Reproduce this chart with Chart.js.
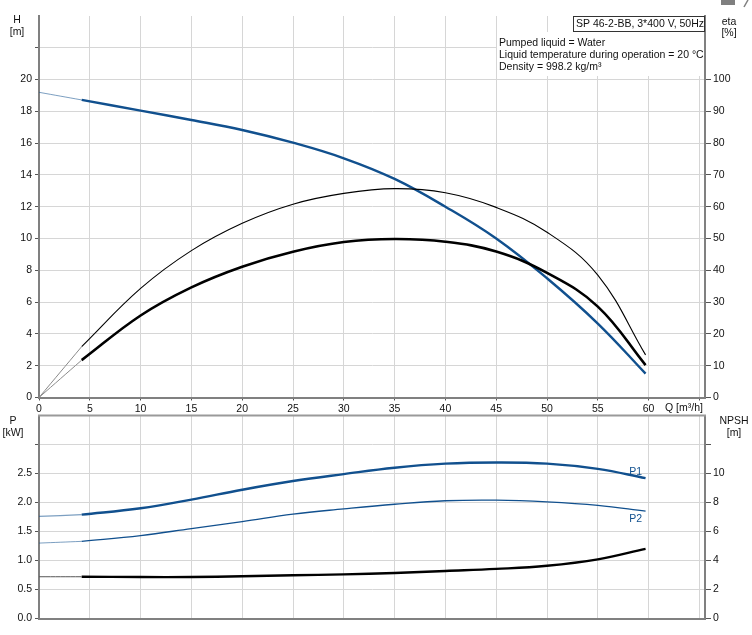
<!DOCTYPE html>
<html><head><meta charset="utf-8">
<script src="https://cdn.jsdelivr.net/npm/chart.js@4/dist/chart.umd.min.js"></script>
<style>
html,body{margin:0;padding:0;background:#fff;}
body{width:752px;height:635px;position:relative;overflow:hidden;}
canvas{position:absolute;left:0;}
#c1{top:0;} #c2{top:405px;}
</style></head><body>
<canvas id="c1" width="752" height="420"></canvas>
<canvas id="c2" width="752" height="230"></canvas>
<script>
// ---------- data ----------
const X_TICKS = [0,5,10,15,20,25,30,35,40,45,50,55,60,65];
const H_TICKS = [0,2,4,6,8,10,12,14,16,18,20,22];
const ETA_TICKS = [0,10,20,30,40,50,60,70,80,90,100];
const P_TICKS = [0,0.5,1.0,1.5,2.0,2.5,3.0];
const NPSH_TICKS = [0,2,4,6,8,10,12];

const Q_EXT = [0, 4.2];
const Q_MAIN = [4.2,10,15,20,25,30,35,40,45,50,55,59.7];
const Q_ETA_THIN = [4.2,10,15,20,25,30,35,40,45,50,55,59.7];
const Q_ETA_THICK = [4.2,10,15,20,25,30,35,40,45,50,55,59.7];

const HEAD_EXT = [19.2, 18.72];
const HEAD = [18.72,18.05,17.46,16.83,16.03,15.05,13.75,12.0,10.0,7.5,4.65,1.5];
const ETA_THIN_EXT = [0, 16];
const ETA_THIN = [16,34.3,46.2,54.8,60.8,64.2,65.7,64.4,59.8,52.0,38.5,13.4];
const ETA_THICK_EXT = [0, 11.75];
const ETA_THICK = [11.75,25.8,34.65,41.15,45.85,48.9,49.85,49,45.9,39.2,28.6,10.2];

const P1_EXT = [1.76, 1.79];
const P1 = [1.79,1.90,2.05,2.22,2.37,2.49,2.60,2.67,2.69,2.67,2.58,2.42];
const P2_EXT = [1.30, 1.33];
const P2 = [1.33,1.43,1.55,1.67,1.80,1.89,1.97,2.03,2.04,2.01,1.95,1.85];
const NPSH_EXT = [2.88, 2.88];
const NPSH = [2.88,2.86,2.86,2.91,2.98,3.04,3.14,3.28,3.42,3.64,4.08,4.8];

const TITLE = 'SP 46-2-BB, 3*400 V, 50Hz';
const INFO = ['Pumped liquid = Water','Liquid temperature during operation = 20 \u00B0C','Density = 998.2 kg/m\u00B3'];

// ---------- style ----------
const FONT = "'Liberation Sans', Arial, sans-serif";
Chart.defaults.font.family = FONT;
Chart.defaults.font.size = 10.5;
Chart.defaults.color = '#111';
const GRID = '#d6d6d6', AXIS = '#808080', TICKC = '#555', BLUE = '#11508e';
const Q_MAX = 65.55;

const pts = (xs, ys) => xs.map((x,i)=>({x:x, y:ys[i]}));
const fixW = w => s => { s.width = w; };
const fixH = h => s => { s.height = h; };
const setTicks = arr => s => { s.ticks = arr.map(v => ({value:v})); };
function line(data, color, width, axis){
  return {data:data, borderColor:color, borderWidth:width, yAxisID:axis, pointRadius:0, fill:false,
          tension:0.4, borderCapStyle:'butt'};
}
function xScale(show, h){
  return {type:'linear', min:0, max:Q_MAX, afterBuildTicks:setTicks(X_TICKS), afterFit:fixH(h),
    grid:{color:GRID, drawTicks:show, tickLength:3, tickColor:TICKC},
    border:{color:AXIS, width:2},
    ticks:{display:show, padding:2, autoSkip:false, maxRotation:0, callback:v => v===65 ? '' : String(v)}};
}
function txt(ctx, s, x, y, align, color){
  ctx.save(); ctx.font = '10.5px ' + FONT; ctx.fillStyle = color || '#111';
  ctx.textAlign = align || 'left'; ctx.textBaseline = 'middle'; ctx.fillText(s, x, y); ctx.restore();
}

const deco1 = {id:'deco1', afterDraw(chart){
  const c = chart.ctx;
  txt(c,'H',17,20,'center'); txt(c,'[m]',17,32,'center');
  txt(c,'eta',729,22,'center'); txt(c,'[%]',729,33,'center');
  txt(c,'Q [m\u00B3/h]',665,408.5,'left');
  c.save();
  c.fillStyle = '#fff'; c.fillRect(497,32,207,44);
  c.fillRect(573,16,131,16);
  c.strokeStyle = '#333'; c.lineWidth = 1; c.strokeRect(573.5,16.5,131,15);
  c.fillStyle = '#7f7f7f'; c.fillRect(721,0,14,5);
  c.strokeStyle = '#7f7f7f'; c.lineWidth = 1.5; c.beginPath(); c.moveTo(744,7); c.lineTo(748,0); c.stroke();
  c.restore();
  txt(c,TITLE,576,24.5,'left');
  INFO.forEach((s,i)=>txt(c,s,499,42.7+i*12,'left'));
}};

const deco2 = {id:'deco2', afterDraw(chart){
  const c = chart.ctx, a = chart.chartArea;
  c.save(); c.strokeStyle = '#9a9a9a'; c.lineWidth = 2;
  c.beginPath(); c.moveTo(a.left-1, a.top); c.lineTo(a.right+1, a.top); c.stroke(); c.restore();
  txt(c,'P',13,15.7,'center'); txt(c,'[kW]',13,28,'center');
  txt(c,'NPSH',734,15.7,'center'); txt(c,'[m]',734,28,'center');
  const xs = chart.scales.x, ys = chart.scales.y;
  const n = Q_MAIN.length - 1;
  txt(c,'P1', xs.getPixelForValue(Q_MAIN[n]) - 10, ys.getPixelForValue(P1[n]) - 6, 'center', BLUE);
  txt(c,'P2', xs.getPixelForValue(Q_MAIN[n]) - 10, ys.getPixelForValue(P2[n]) + 8, 'center', BLUE);
}};

new Chart(document.getElementById('c1'), {
  type:'line',
  data:{datasets:[
    line(pts(Q_EXT, HEAD_EXT), 'rgba(17,80,142,0.55)', 1, 'y'),
    line(pts(Q_EXT, ETA_THIN_EXT), '#8a8a8a', 1, 'yE'),
    line(pts(Q_EXT, ETA_THICK_EXT), '#8a8a8a', 1, 'yE'),
    line(pts(Q_ETA_THIN, ETA_THIN), '#000', 1.1, 'yE'),
    line(pts(Q_ETA_THICK, ETA_THICK), '#000', 2.6, 'yE'),
    line(pts(Q_MAIN, HEAD), BLUE, 2.4, 'y')
  ]},
  options:{responsive:false, animation:false, devicePixelRatio:1,
    layout:{padding:{top:16,left:0,right:0,bottom:0}},
    plugins:{legend:{display:false}, tooltip:{enabled:false}},
    scales:{
      x: xScale(true, 22.5),
      y: {position:'left', min:0, max:24, afterBuildTicks:setTicks(H_TICKS), afterFit:fixW(39),
          grid:{color:GRID, tickLength:4, tickColor:TICKC}, border:{color:AXIS,width:2},
          ticks:{padding:3, autoSkip:false, callback:v => v>20 ? '' : String(v)}},
      yE:{position:'right', min:0, max:120, afterBuildTicks:setTicks(ETA_TICKS), afterFit:fixW(47),
          grid:{drawOnChartArea:false, tickLength:6, tickColor:TICKC}, border:{color:AXIS,width:2},
          ticks:{padding:2, autoSkip:false}}
    }},
  plugins:[deco1]
});

new Chart(document.getElementById('c2'), {
  type:'line',
  data:{datasets:[
    line(pts(Q_EXT, P1_EXT), 'rgba(17,80,142,0.55)', 1.2, 'y'),
    line(pts(Q_EXT, P2_EXT), 'rgba(17,80,142,0.55)', 1, 'y'),
    line(pts(Q_EXT, NPSH_EXT), '#555', 1, 'yN'),
    line(pts(Q_MAIN, P1), BLUE, 2.4, 'y'),
    line(pts(Q_MAIN, P2), BLUE, 1.3, 'y'),
    line(pts(Q_MAIN, NPSH), '#000', 2.4, 'yN')
  ]},
  options:{responsive:false, animation:false, devicePixelRatio:1,
    layout:{padding:{top:10.5,left:0,right:0,bottom:0}},
    plugins:{legend:{display:false}, tooltip:{enabled:false}},
    scales:{
      x: xScale(false, 16.5),
      y: {position:'left', min:0, max:3.5, afterBuildTicks:setTicks(P_TICKS), afterFit:fixW(39),
          grid:{color:GRID, tickLength:4, tickColor:TICKC}, border:{color:AXIS,width:2},
          ticks:{padding:3, autoSkip:false, callback:v => v>2.5 ? '' : v.toFixed(1)}},
      yN:{position:'right', min:0, max:14, afterBuildTicks:setTicks(NPSH_TICKS), afterFit:fixW(47),
          grid:{drawOnChartArea:false, tickLength:6, tickColor:TICKC}, border:{color:AXIS,width:2},
          ticks:{padding:2, autoSkip:false, callback:v => v>10 ? '' : String(v)}}
    }},
  plugins:[deco2]
});
</script>
</body></html>
